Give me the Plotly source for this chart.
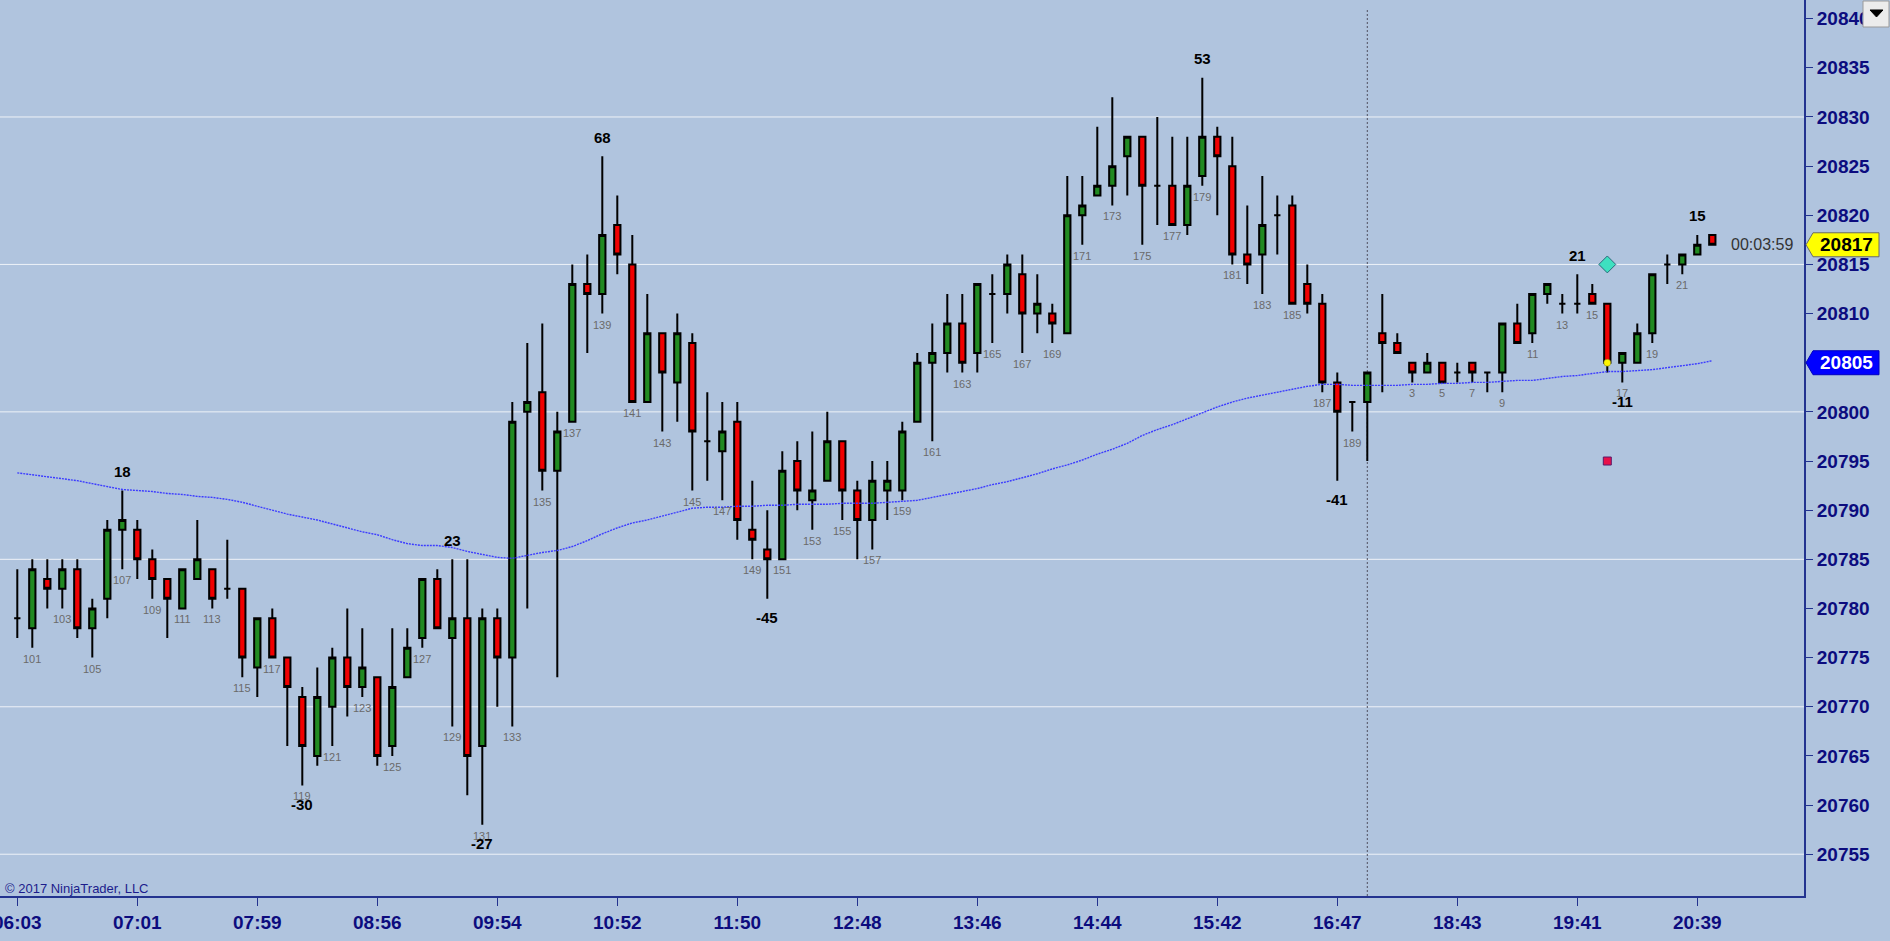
import plotly.graph_objects as go

# ---------------- data ----------------
opens = [20779, 20778, 20783, 20782, 20784, 20778, 20781, 20788, 20788, 20785,
         20783, 20780, 20783, 20784, 20782, 20782, 20774, 20779, 20775, 20771,
         20765, 20770, 20775, 20772, 20773, 20766, 20773, 20777, 20783, 20777,
         20779, 20766, 20779, 20775, 20800, 20802, 20794, 20799, 20813, 20812,
         20819, 20815, 20801, 20808, 20803, 20807, 20797, 20796, 20799, 20788,
         20786, 20785, 20795, 20791, 20793, 20797, 20792, 20789, 20792, 20792,
         20799, 20805, 20806, 20809, 20806, 20812, 20812, 20814, 20810, 20810,
         20808, 20820, 20822, 20823, 20826, 20828, 20823, 20823, 20819, 20824,
         20828, 20825, 20816, 20816, 20820, 20821, 20813, 20811, 20803, 20801,
         20801, 20808, 20807, 20805, 20804, 20805, 20804, 20805, 20804, 20804,
         20809, 20808, 20812, 20811, 20811, 20812, 20811, 20805, 20805, 20808,
         20815, 20815, 20816, 20818]
highs = [20784, 20785, 20785, 20785, 20785, 20781, 20789, 20792, 20789, 20786,
         20783, 20784, 20789, 20784, 20787, 20782, 20779, 20780, 20775, 20772,
         20774, 20776, 20780, 20778, 20773, 20778, 20778, 20783, 20784, 20785,
         20785, 20780, 20780, 20801, 20807, 20809, 20800, 20815, 20816, 20826,
         20822, 20818, 20812, 20808, 20810, 20808, 20802, 20801, 20801, 20793,
         20790, 20796, 20797, 20798, 20800, 20797, 20793, 20795, 20795, 20799,
         20806, 20809, 20812, 20812, 20813, 20814, 20816, 20816, 20814, 20811,
         20824, 20824, 20829, 20832, 20828, 20828, 20830, 20828, 20828, 20834,
         20829, 20828, 20821, 20824, 20822, 20822, 20815, 20812, 20804, 20801,
         20804, 20812, 20808, 20805, 20806, 20805, 20805, 20805, 20804, 20809,
         20811, 20812, 20813, 20812, 20814, 20813, 20811, 20806, 20809, 20814,
         20816, 20816, 20818, 20818]
lows = [20777, 20776, 20780, 20780, 20777, 20775, 20779, 20784, 20783, 20781,
        20777, 20780, 20783, 20780, 20781, 20773, 20771, 20775, 20766, 20762,
        20764, 20766, 20769, 20771, 20764, 20765, 20773, 20776, 20778, 20768,
        20761, 20758, 20770, 20768, 20780, 20792, 20773, 20799, 20806, 20810,
        20814, 20801, 20801, 20798, 20799, 20792, 20793, 20791, 20787, 20785,
        20781, 20785, 20790, 20788, 20793, 20789, 20785, 20786, 20789, 20791,
        20799, 20797, 20804, 20804, 20804, 20807, 20810, 20806, 20808, 20807,
        20808, 20817, 20822, 20821, 20822, 20817, 20819, 20819, 20818, 20823,
        20820, 20815, 20813, 20812, 20816, 20811, 20810, 20802, 20793, 20798,
        20795, 20802, 20806, 20803, 20804, 20803, 20803, 20803, 20802, 20802,
        20807, 20807, 20811, 20810, 20810, 20811, 20804, 20803, 20805, 20807,
        20813, 20814, 20816, 20817]
closes = [20779, 20784, 20782, 20784, 20778, 20780, 20788, 20789, 20785, 20783,
          20781, 20784, 20785, 20781, 20782, 20775, 20779, 20775, 20772, 20766,
          20771, 20775, 20772, 20774, 20765, 20772, 20776, 20783, 20778, 20779,
          20765, 20779, 20775, 20799, 20801, 20794, 20798, 20813, 20812, 20818,
          20816, 20801, 20808, 20804, 20808, 20798, 20797, 20798, 20789, 20787,
          20785, 20794, 20792, 20792, 20797, 20792, 20789, 20793, 20793, 20798,
          20805, 20806, 20809, 20805, 20813, 20812, 20815, 20810, 20811, 20809,
          20820, 20821, 20823, 20825, 20828, 20823, 20823, 20819, 20823, 20828,
          20826, 20816, 20815, 20819, 20820, 20811, 20811, 20803, 20800, 20801,
          20804, 20807, 20806, 20804, 20805, 20803, 20804, 20804, 20804, 20809,
          20807, 20812, 20813, 20811, 20811, 20811, 20805, 20806, 20808, 20814,
          20815, 20816, 20817, 20817]
ma_values = [20793.8, 20793.6, 20793.4, 20793.2, 20793.0, 20792.7, 20792.4, 20792.1, 20792.0, 20791.9,
             20791.7, 20791.6, 20791.4, 20791.3, 20791.1, 20790.8, 20790.4, 20790.0, 20789.6, 20789.3,
             20789.0, 20788.6, 20788.2, 20787.8, 20787.5, 20787.0, 20786.6, 20786.4, 20786.4, 20786.2,
             20785.8, 20785.5, 20785.2, 20785.1, 20785.4, 20785.7, 20785.9, 20786.3, 20786.9, 20787.6,
             20788.2, 20788.7, 20789.0, 20789.4, 20789.8, 20790.2, 20790.3, 20790.3, 20790.4, 20790.4,
             20790.5, 20790.5, 20790.6, 20790.6, 20790.6, 20790.7, 20790.7, 20790.7, 20790.8, 20790.9,
             20791.0, 20791.3, 20791.6, 20791.9, 20792.2, 20792.6, 20792.9, 20793.3, 20793.7, 20794.2,
             20794.6, 20795.1, 20795.7, 20796.2, 20796.8, 20797.6, 20798.2, 20798.7, 20799.3, 20799.9,
             20800.5, 20801.0, 20801.4, 20801.7, 20802.0, 20802.3, 20802.6, 20802.8, 20802.8, 20802.7,
             20802.7, 20802.7, 20802.7, 20802.8, 20802.8, 20802.9, 20802.9, 20803.0, 20803.0, 20803.1,
             20803.2, 20803.2, 20803.4, 20803.6, 20803.7, 20803.9, 20804.1, 20804.1, 20804.2, 20804.3,
             20804.5, 20804.7, 20804.9, 20805.2]

bar_x = list(range(len(opens)))

time_tick_bars = [0, 8, 16, 24, 32, 40, 48, 56, 64, 72, 80, 88, 96, 104, 112]
time_tick_labels = ["06:03", "07:01", "07:59", "08:56", "09:54", "10:52", "11:50", "12:48",
                    "13:46", "14:44", "15:42", "16:47", "18:43", "19:41", "20:39"]

price_ticks = [20755, 20760, 20765, 20770, 20775, 20780, 20785, 20790, 20795, 20800,
               20805, 20810, 20815, 20820, 20825, 20830, 20835, 20840]
grid_levels = [20755, 20770, 20785, 20800, 20815, 20830]

number_label_bars = [1, 3, 5, 7, 9, 11, 13, 15, 17, 19, 21, 23, 25, 27, 29, 31, 33, 35, 37, 39,
                     41, 43, 45, 47, 49, 51, 53, 55, 57, 59, 61, 63, 65, 67, 69, 71, 73, 75, 77, 79,
                     81, 83, 85, 87, 89, 93, 95, 97, 99, 101, 103, 105, 107, 109, 111]
number_label_text = ["101", "103", "105", "107", "109", "111", "113", "115", "117", "119",
                     "121", "123", "125", "127", "129", "131", "133", "135", "137", "139",
                     "141", "143", "145", "147", "149", "151", "153", "155", "157", "159",
                     "161", "163", "165", "167", "169", "171", "173", "175", "177", "179",
                     "181", "183", "185", "187", "189", "3", "5", "7", "9", "11",
                     "13", "15", "17", "19", "21"]

swing_bars = [7, 19, 29, 31, 39, 50, 79, 88, 104, 107, 112]
swing_text = ["18", "-30", "23", "-27", "68", "-45", "53", "-41", "21", "-11", "15"]
swing_side = ["high", "low", "high", "low", "high", "low", "high", "low", "high", "low", "high"]

last_price = 20817
ma_last = 20805
timer_text = "00:03:59"
timer_bar = 114.1
session_break_bar = 90
signal_bar = 106
diamond_price = 20815
square_price = 20795
dot_price = 20805
copyright_text = "© 2017 NinjaTrader, LLC"

# ---------------- layout constants ----------------
W, H = 1890, 941
PLOT_W, PLOT_H = 1804, 896
BG = "#B0C4DE"
NAVY = "#0c0c7e"
AXIS_LINE = "#23338f"
FONT = "Liberation Sans, Arial, sans-serif"


def px_x(px):
    return px / PLOT_W


def px_y(py):
    return 1 - py / PLOT_H


fig = go.Figure()

fig.add_trace(go.Scatter(
    x=bar_x, y=ma_values, mode="lines",
    line=dict(color="#3c3cff", width=1.4, dash="2px,1px"),
    hoverinfo="skip", showlegend=False))

fig.add_trace(go.Candlestick(
    x=bar_x, open=opens, high=highs, low=lows, close=closes,
    increasing=dict(fillcolor="#218A21", line=dict(color="black", width=2)),
    decreasing=dict(fillcolor="#F00000", line=dict(color="black", width=2)),
    whiskerwidth=0, showlegend=False))

# signal markers on one bar
fig.add_trace(go.Scatter(
    x=[signal_bar], y=[diamond_price], mode="markers",
    marker=dict(symbol="diamond", size=13, color="#3EE0C0", line=dict(color="#2a6a7a", width=1)),
    hoverinfo="skip", showlegend=False))
fig.add_trace(go.Scatter(
    x=[signal_bar], y=[square_price], mode="markers",
    marker=dict(symbol="square", size=8, color="#E8104A", line=dict(color="#5a1a6a", width=1)),
    hoverinfo="skip", showlegend=False))
fig.add_trace(go.Scatter(
    x=[signal_bar], y=[dot_price], mode="markers",
    marker=dict(symbol="circle", size=7, color="#FFF500", line=dict(color="#7a7a20", width=0.5)),
    hoverinfo="skip", showlegend=False))

shapes = []
for lv in grid_levels:
    shapes.append(dict(type="line", xref="paper", yref="y", x0=0, x1=1, y0=lv, y1=lv,
                       line=dict(color="#EEF2F8", width=1), layer="below"))
shapes.append(dict(type="line", xref="x", yref="paper", x0=session_break_bar, x1=session_break_bar,
                   y0=0, y1=px_y(8), line=dict(color="#505060", width=1, dash="2px,2px"), layer="below"))

# price tags on the right axis
for price, fill, line_c in [(last_price, "#FFFF00", "#6a6a6a"), (ma_last, "#0000FF", "#0000C0")]:
    shapes.append(dict(type="path", xref="paper", yref="y", xsizemode="pixel", ysizemode="pixel",
                       xanchor=1, yanchor=price,
                       path="M 2,0 L 9,12 L 75,12 L 75,-12 L 9,-12 Z",
                       fillcolor=fill, line=dict(color=line_c, width=1), layer="above"))

# dropdown button top-right
shapes.append(dict(type="rect", xref="paper", yref="paper", x0=px_x(1863), x1=px_x(1889),
                   y0=px_y(27), y1=px_y(1), fillcolor="#ECECEC", line=dict(color="#9a9a9a", width=1),
                   layer="above"))
shapes.append(dict(type="path", xref="paper", yref="paper",
                   path="M {:.5f},{:.5f} L {:.5f},{:.5f} L {:.5f},{:.5f} Z".format(
                       px_x(1870), px_y(10), px_x(1883), px_y(10), px_x(1876.5), px_y(17)),
                   fillcolor="black", line=dict(color="black", width=1), layer="above"))

annotations = []
for b, t in zip(number_label_bars, number_label_text):
    annotations.append(dict(x=b, y=lows[b], xref="x", yref="y", text=t, showarrow=False,
                            yshift=-11, yanchor="middle",
                            font=dict(family=FONT, size=11, color="#6a6a6a")))
for b, t, s in zip(swing_bars, swing_text, swing_side):
    yv = highs[b] if s == "high" else lows[b]
    annotations.append(dict(x=b, y=yv, xref="x", yref="y", text="<b>" + t + "</b>", showarrow=False,
                            yshift=19 if s == "high" else -19, yanchor="middle",
                            font=dict(family=FONT, size=15, color="black")))
annotations.append(dict(x=timer_bar, y=last_price, xref="x", yref="y", text=timer_text,
                        showarrow=False, xanchor="left", yanchor="middle",
                        font=dict(family=FONT, size=16, color="#333333")))
annotations.append(dict(x=1, y=last_price, xref="paper", yref="y", text="<b>" + str(last_price) + "</b>",
                        showarrow=False, xanchor="center", yanchor="middle", xshift=42,
                        font=dict(family=FONT, size=19, color="black")))
annotations.append(dict(x=1, y=ma_last, xref="paper", yref="y", text="<b>" + str(ma_last) + "</b>",
                        showarrow=False, xanchor="center", yanchor="middle", xshift=42,
                        font=dict(family=FONT, size=19, color="white")))
annotations.append(dict(x=px_x(3), y=px_y(888), xref="paper", yref="paper", text=copyright_text,
                        showarrow=False, xanchor="left", yanchor="middle",
                        font=dict(family=FONT, size=13, color="#1c1c8c")))

fig.update_layout(
    width=W, height=H, autosize=False,
    margin=dict(l=0, r=W - PLOT_W, t=0, b=H - PLOT_H, pad=0, autoexpand=False),
    paper_bgcolor=BG, plot_bgcolor=BG,
    boxgap=0.58, boxgroupgap=0,
    showlegend=False,
    shapes=shapes, annotations=annotations,
    font=dict(family=FONT),
    xaxis=dict(range=[-17.3 / 15, (PLOT_W - 17.3) / 15], rangeslider=dict(visible=False),
               tickmode="array", tickvals=time_tick_bars, ticktext=time_tick_labels,
               ticks="outside", ticklen=8, tickwidth=1, tickcolor=AXIS_LINE,
               ticklabeloverflow="allow", automargin=False,
               showline=True, linecolor=AXIS_LINE, linewidth=2, showgrid=False, zeroline=False,
               tickfont=dict(family=FONT, size=19, color=NAVY, weight="bold")),
    yaxis=dict(range=[20750.75, 20841.90], side="right", tickmode="array", tickvals=price_ticks,
               ticktext=[str(p) for p in price_ticks],
               ticks="outside", ticklen=7, tickwidth=1, tickcolor=AXIS_LINE,
               ticklabeloverflow="allow", automargin=False,
               showline=True, linecolor=AXIS_LINE, linewidth=2, showgrid=False, zeroline=False,
               tickfont=dict(family=FONT, size=19, color=NAVY, weight="bold")),
)

fig.write_html(
    "out.html",
    config={"displayModeBar": False},
    post_script="document.body.style.margin='0px';document.body.style.padding='0px';"
                "document.body.style.overflow='hidden';document.body.style.background='" + BG + "';",
)
